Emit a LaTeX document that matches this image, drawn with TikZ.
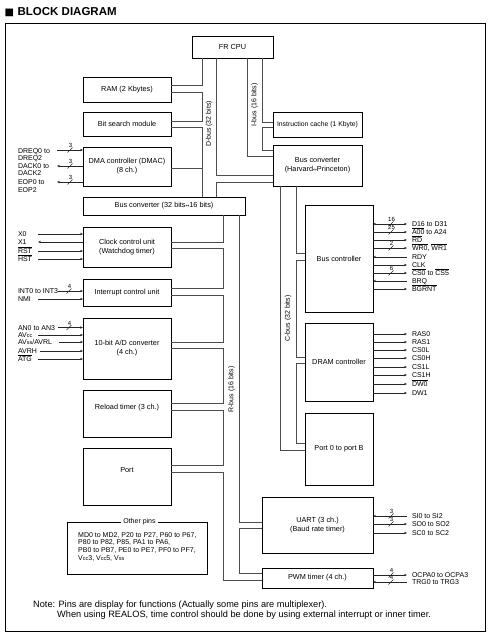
\documentclass[tikz,border=0pt]{standalone}
\usepackage{fontspec}
\setmainfont{Liberation Sans}
\newfontfamily\djv{DejaVu Sans}
\usetikzlibrary{arrows.meta}
\newcommand\ovl[1]{\ensuremath{\overline{\mbox{#1}}}}
\newcommand\lrar{{\djv\fontsize{4.5}{4.5}\selectfont ↔}}
\newcommand\smc[1]{{\fontsize{5.5}{5.5}\selectfont #1}}
% left pin line: #1 name, #2 y, #3 x start, #4 box, #5 arrow
\newcommand\lline[5]{\coordinate (#1) at (#3,#2); \draw[sig,#5] (#1) -- (#4.west |- #1);}
% right pin line: #1 name, #2 y, #3 box, #4 arrow
\newcommand\rline[4]{\coordinate (#1) at (407,#2); \draw[sig,#4] (#3.east |- #1) -- (#1);}
% bundle mark: #1 name, #2 x, #3 y, #4 number
\newcommand\bund[4]{\draw[sig] (#2-2.5,#3+2.5) -- (#2+2.5,#3-2.5); \node[numl] (#1) at (#2+0.5,#3-4.5) {#4};}
\begin{document}
\begin{tikzpicture}[x=1pt,y=-1pt,
  box/.style={draw=black,line width=0.75pt,inner sep=1pt,outer sep=0pt,align=center,font=\fontsize{7.3}{9}\selectfont},
  bus/.style={draw=black!70,line width=0.7pt},
  sig/.style={draw=black!85,line width=0.6pt},
  pinl/.style={inner sep=0pt,outer sep=0pt,font=\fontsize{7}{8}\selectfont,anchor=base west},
  numl/.style={inner sep=0pt,font=\fontsize{6}{6}\selectfont},
  buslab/.style={inner sep=0pt,rotate=90,font=\fontsize{7}{8}\selectfont},
  >={Stealth[length=3pt,width=2.4pt]}]
\fill[white] (0,0) rectangle (490,639);
\useasboundingbox (0,0) rectangle (490,639);

% title and frame
\node[anchor=west,inner sep=0pt,font=\fontsize{11.5}{12}\selectfont\bfseries] (title) at (4.5,12)
  {{\djv\fontsize{10}{10}\selectfont ■}\hspace{3.5pt}BLOCK DIAGRAM};
\draw[line width=0.8pt] (5,23) rectangle (485,631);

% blocks
\node[box,minimum width=81pt,minimum height=22pt] (cpu) at (232.5,47) {FR CPU};
\node[box,minimum width=88pt,minimum height=25pt] (ram) at (127,89.5) {RAM (2 Kbytes)};
\node[box,minimum width=88pt,minimum height=24pt] (bsm) at (127,124) {Bit search module};
\node[box,minimum width=88pt,minimum height=39pt] (dma) at (127,166.5) {DMA controller (DMAC)\\(8 ch.)};
\node[box,minimum width=162pt,minimum height=18pt] (bc16) at (164,206) {Bus converter (32 bits\lrar16 bits)};
\node[box,minimum width=89pt,minimum height=25pt,font=\fontsize{6.8}{8}\selectfont] (icache) at (317.5,124.5) {Instruction cache (1 Kbyte)};
\node[box,minimum width=89pt,minimum height=41pt] (harv) at (317.5,165.5) {Bus converter\\(Harvard\lrar Princeton)};
\node[box,minimum width=88pt,minimum height=40pt] (clk) at (127,247) {Clock control unit\\(Watchdog timer)};
\node[box,minimum width=88pt,minimum height=27pt] (intc) at (127,292.5) {Interrupt control unit};
\node[box,minimum width=88pt,minimum height=61pt] (adc) at (127,348.5) {10-bit A/D converter\\(4 ch.)};
\node[box,minimum width=88pt,minimum height=47pt,text depth=14pt] (rld) at (127,413.5) {Reload timer (3 ch.)};
\node[box,minimum width=88pt,minimum height=57pt,text depth=14pt] (port) at (127,476.5) {Port};
\node[box,minimum width=68pt,minimum height=107pt] (busc) at (339,258.5) {Bus controller};
\node[box,minimum width=68pt,minimum height=78pt] (dram) at (339,362) {DRAM controller};
\node[box,minimum width=68pt,minimum height=72pt] (portb) at (339,449) {Port 0 to port B};
\node[box,minimum width=111pt,minimum height=56pt] (uart) at (317.5,525) {UART (3 ch.)\\(Baud rate timer)};
\node[box,minimum width=111pt,minimum height=20pt] (pwm) at (317.5,578) {PWM timer (4 ch.)};

% bus rails
\coordinate (dL) at (202,0); \coordinate (dR) at (216,0);
\coordinate (iL) at (247,0); \coordinate (iR) at (262,0);
\coordinate (rL) at (223,0); \coordinate (rR) at (239,0);
\coordinate (cL) at (280,0); \coordinate (cR) at (296,0);

% D-bus
\draw[bus] (dR |- cpu.south) -- (dR |- 0,175) -- (harv.west |- 0,175);
\draw[bus] (harv.west |- 0,182) -- (dR |- 0,182) -- (dR |- bc16.north);
\draw[bus] (dL |- cpu.south) -- (dL |- 0,85) -- (ram.east |- 0,85);
\draw[bus] (ram.east |- 0,92) -- (dL |- 0,92) -- (dL |- 0,121) -- (bsm.east |- 0,121);
\draw[bus] (bsm.east |- 0,127) -- (dL |- 0,127) -- (dL |- bc16.north);
\draw[bus] (dma.east |- 0,168) -- (dL |- 0,168);
% I-bus
\draw[bus] (iR |- cpu.south) -- (iR |- 0,122) -- (icache.west |- 0,122);
\draw[bus] (icache.west |- 0,127) -- (iR |- 0,127) -- (iR |- 0,150) -- (harv.west |- 0,150);
\draw[bus] (iL |- cpu.south) -- (iL |- 0,156) -- (harv.west |- 0,156);
% C-bus
\draw[bus] (cR |- harv.south) -- (cR |- 0,253) -- (busc.west |- 0,253);
\draw[bus] (busc.west |- 0,260) -- (cR |- 0,260) -- (cR |- 0,357) -- (dram.west |- 0,357);
\draw[bus] (dram.west |- 0,363) -- (cR |- 0,363) -- (cR |- 0,443) -- (portb.west |- 0,443);
\draw[bus] (cL |- harv.south) -- (cL |- 0,450) -- (portb.west |- 0,450);
% R-bus
\draw[bus] (rR |- bc16.south) -- (rR |- 0,522) -- (uart.west |- 0,522);
\draw[bus] (uart.west |- 0,528) -- (rR |- 0,528) -- (rR |- 0,573) -- (pwm.west |- 0,573);
\draw[bus] (rL |- bc16.south) -- (rL |- 0,242) -- (clk.east |- 0,242);
\draw[bus] (clk.east |- 0,248) -- (rL |- 0,248) -- (rL |- 0,288) -- (intc.east |- 0,288);
\draw[bus] (intc.east |- 0,295) -- (rL |- 0,295) -- (rL |- 0,342) -- (adc.east |- 0,342);
\draw[bus] (adc.east |- 0,348) -- (rL |- 0,348) -- (rL |- 0,403) -- (rld.east |- 0,403);
\draw[bus] (rld.east |- 0,410) -- (rL |- 0,410) -- (rL |- 0,465) -- (port.east |- 0,465);
\draw[bus] (port.east |- 0,472) -- (rL |- 0,472) -- (rL |- 0,580) -- (pwm.west |- 0,580);

% bus labels
\node[buslab] (dbl) at (209,124) {D-bus (32 bits)};
\node[buslab] (ibl) at (254.5,105) {I-bus (16 bits)};
\node[buslab] (cbl) at (288,318.5) {C-bus (32 bits)};
\node[buslab] (rbl) at (231.5,389.5) {R-bus (16 bits)};

% left pins: DMA
\node[pinl] (lDREQa) at (18,153.5) {DREQ0 to};
\node[pinl] (lDREQb) at (18,160.5) {DREQ2};
\node[pinl] (lDACKa) at (18,168.5) {DACK0 to};
\node[pinl] (lDACKb) at (18,175.5) {DACK2};
\node[pinl] (lEOPa) at (18,184.5) {EOP0 to};
\node[pinl] (lEOPb) at (18,192) {EOP2};
\lline{sDREQ}{150}{57}{dma}{->}
\lline{sDACK}{166}{57}{dma}{<-}
\lline{sEOP}{182}{57}{dma}{<-}
\bund{nDREQ}{70}{150}{3}
\bund{nDACK}{70}{166}{3}
\bund{nEOP}{70}{182}{3}
% clock
\node[pinl] (lX0) at (18,236.5) {X0};
\node[pinl] (lX1) at (18,244.5) {X1};
\node[pinl] (lRST) at (18,253.5) {\ovl{RST}};
\node[pinl] (lHST) at (18,261.5) {\ovl{HST}};
\lline{sX0}{234}{38}{clk}{->}
\lline{sX1}{242}{38}{clk}{<-}
\lline{sRST}{251}{38}{clk}{->}
\lline{sHST}{259}{38}{clk}{->}
% interrupt
\node[pinl] (lINT) at (18,293.5) {INT0 to INT3};
\node[pinl] (lNMI) at (18,301.5) {NMI};
\lline{sINT}{291}{58}{intc}{->}
\lline{sNMI}{299}{38}{intc}{->}
\bund{nINT}{69}{291}{4}
% A/D
\node[pinl] (lAN) at (18,330) {AN0 to AN3};
\node[pinl] (lAVCC) at (18,337.5) {AV\smc{cc}};
\node[pinl] (lAVSS) at (18,344.5) {AV\smc{ss}/AVRL};
\node[pinl] (lAVRH) at (18,353.5) {AVRH};
\node[pinl] (lATG) at (18,361.5) {\ovl{ATG}};
\lline{sAN}{327.5}{58}{adc}{->}
\lline{sAVCC}{335}{38}{adc}{->}
\lline{sAVSS}{342}{59}{adc}{->}
\lline{sAVRH}{351}{40}{adc}{->}
\lline{sATG}{359}{38}{adc}{->}
\bund{nAN}{69}{327.5}{4}

% right pins: bus controller
\rline{sD}{224}{busc}{<->}
\rline{sA}{232}{busc}{->}
\rline{sRD}{240}{busc}{->}
\rline{sWR}{248}{busc}{->}
\rline{sRDY}{257}{busc}{<-}
\rline{sCLK}{265}{busc}{->}
\rline{sCS}{273}{busc}{->}
\rline{sBRQ}{281}{busc}{<-}
\rline{sBG}{289}{busc}{->}
\bund{nD}{391}{224}{16}
\bund{nA}{391}{232}{25}
\bund{nWR}{391}{248}{2}
\bund{nCS}{391}{273}{6}
\node[pinl] (lD) at (412,226.5) {D16 to D31};
\node[pinl] (lA) at (412,234.5) {\ovl{A00} to A24};
\node[pinl] (lRD) at (412,242.5) {\ovl{RD}};
\node[pinl] (lWR) at (412,250.5) {\ovl{WR0}, \ovl{WR1}};
\node[pinl] (lRDY) at (412,259.5) {RDY};
\node[pinl] (lCLK) at (412,267.5) {CLK};
\node[pinl] (lCS) at (412,275.5) {\ovl{CS0} to \ovl{CS5}};
\node[pinl] (lBRQ) at (412,283.5) {BRQ};
\node[pinl] (lBG) at (412,291.5) {\ovl{BGRNT}};
% DRAM
\rline{sRAS0}{334}{dram}{->}
\rline{sRAS1}{342}{dram}{->}
\rline{sCS0L}{350}{dram}{->}
\rline{sCS0H}{358}{dram}{->}
\rline{sCS1L}{367}{dram}{->}
\rline{sCS1H}{375}{dram}{->}
\rline{sDW0}{384}{dram}{->}
\rline{sDW1}{393}{dram}{->}
\node[pinl] (lRAS0) at (412,336.5) {RAS0};
\node[pinl] (lRAS1) at (412,344.5) {RAS1};
\node[pinl] (lCS0L) at (412,352.5) {CS0L};
\node[pinl] (lCS0H) at (412,360.5) {CS0H};
\node[pinl] (lCS1L) at (412,369.5) {CS1L};
\node[pinl] (lCS1H) at (412,377.5) {CS1H};
\node[pinl] (lDW0) at (412,386.5) {\ovl{DW0}};
\node[pinl] (lDW1) at (412,395.5) {DW1};
% UART
\rline{sSI}{516}{uart}{<-}
\rline{sSO}{524}{uart}{->}
\rline{sSC}{533}{uart}{->}
\bund{nSI}{391}{516}{3}
\bund{nSO}{391}{524}{3}
\node[pinl] (lSI) at (412,518.5) {SI0 to SI2};
\node[pinl] (lSO) at (412,526.5) {SO0 to SO2};
\node[pinl] (lSC) at (412,535.5) {SC0 to SC2};
% PWM
\rline{sOC}{575}{pwm}{->}
\rline{sTRG}{582}{pwm}{<-}
\bund{nOC}{391}{575}{4}
\bund{nTRG}{391}{582}{4}
\node[pinl] (lOC) at (412,577.5) {OCPA0 to OCPA3};
\node[pinl] (lTRG) at (412,584.5) {TRG0 to TRG3};

% other pins
\node[draw=black,line width=0.75pt,minimum width=140pt,minimum height=52pt,inner sep=0pt] (other) at (137,548) {};
\node[fill=white,inner sep=2pt,font=\fontsize{7}{8}\selectfont] (othert) at (139.5,522) {Other pins};
\node[anchor=north west,inner sep=0pt,align=left,font=\fontsize{7}{7.8}\selectfont] (otherx) at (78,532)
  {MD0 to MD2, P20 to P27, P60 to P67,\\P80 to P82, P85, PA1 to PA6,\\PB0 to PB7, PE0 to PE7, PF0 to PF7,\\V\smc{cc}3, V\smc{cc}5, V\smc{ss}};

% note
\node[anchor=base west,inner sep=0pt,font=\fontsize{9.2}{10}\selectfont] (note1) at (33,607)
  {Note: Pins are display for functions (Actually some pins are multiplexer).};
\node[anchor=base west,inner sep=0pt,font=\fontsize{9.2}{10}\selectfont] (note2) at (57,617)
  {When using REALOS, time control should be done by using external interrupt or inner timer.};
\end{tikzpicture}
\end{document}
